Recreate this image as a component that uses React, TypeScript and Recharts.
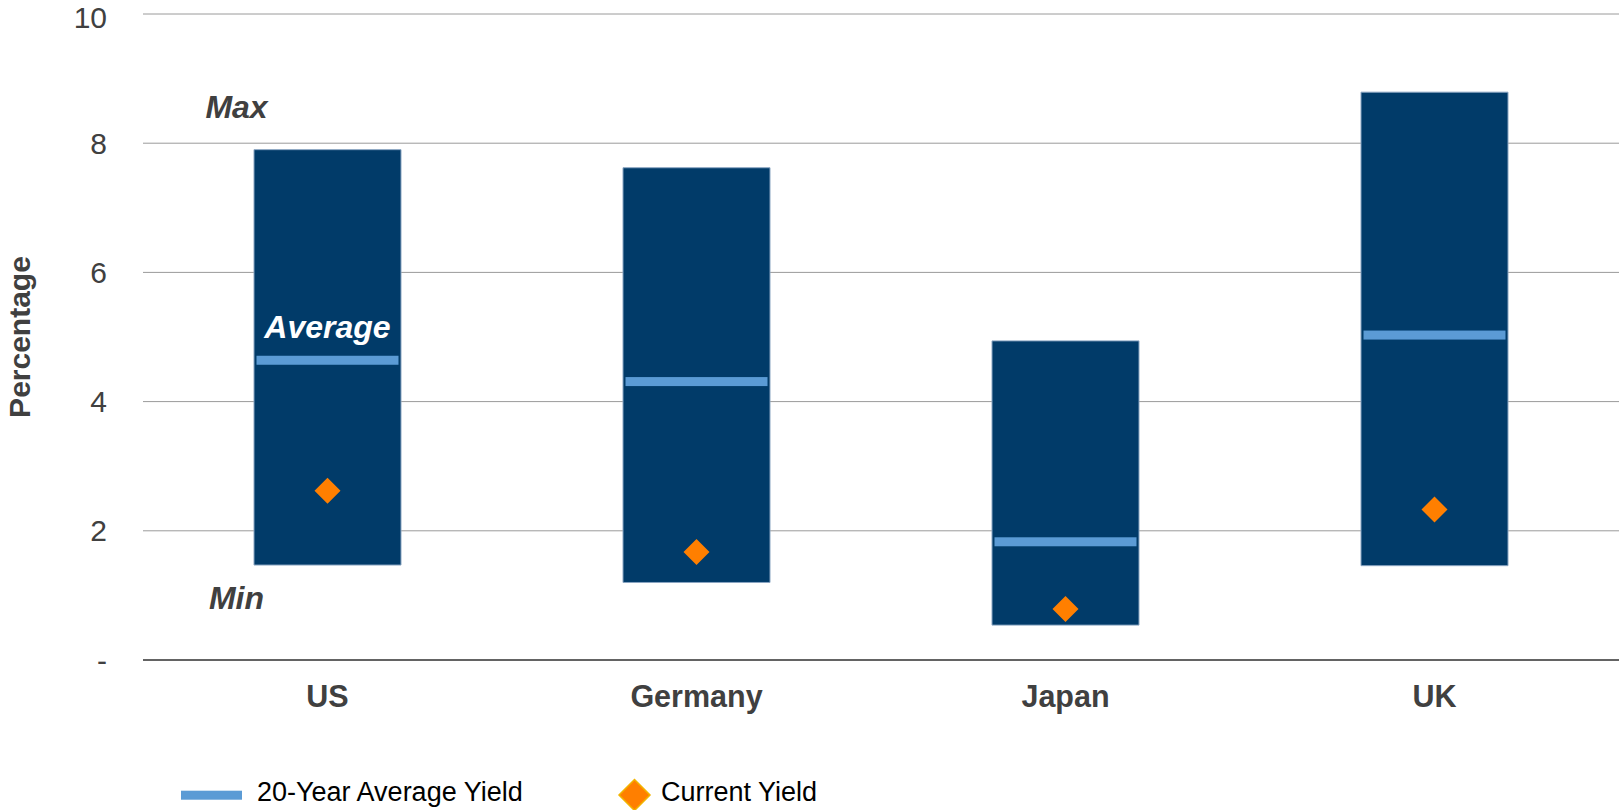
import { ComposedChart, Bar, Line, XAxis, YAxis, CartesianGrid, ReferenceDot, Legend } from "recharts"

const countries = ["US", "Germany", "Japan", "UK"]
const minYield = [1.47, 1.2, 0.54, 1.46]
const maxYield = [7.9, 7.62, 4.94, 8.79]
const avgYield = [4.64, 4.31, 1.83, 5.03]
const currentYield = [2.62, 1.67, 0.79, 2.33]
const yTicks = [0, 2, 4, 6, 8, 10]

const FONT = '"Liberation Sans", Arial, sans-serif'
const TEXT = "#404040"

const chartData = countries.map((country, i) => ({
  country,
  range: [minYield[i], maxYield[i]],
  avg: avgYield[i],
  current: currentYield[i],
}))

// average marker: short thick dash across the bar
function renderAvg(props: any) {
  const { cx, cy, index } = props
  if (cx == null || cy == null) return <g key={index} />
  return <rect key={index} x={cx - 71} y={cy - 4.5} width={142} height={9} fill="#5b9bd5" />
}

function renderDiamond(props: any) {
  const { cx, cy, index } = props
  if (cx == null || cy == null) return <g key={index} />
  const r = 13
  return (
    <polygon
      key={index}
      points={`${cx},${cy - r} ${cx + r},${cy} ${cx},${cy + r} ${cx - r},${cy}`}
      fill="#ff7f00"
    />
  )
}

function noteLabel(text: string, dx: number, dy: number, color: string) {
  return (props: any) => {
    const vb = props.viewBox || {}
    const x = (vb.x ?? 0) + (vb.width ?? 0) / 2 + dx
    const y = (vb.y ?? 0) + (vb.height ?? 0) / 2 + dy
    return (
      <text x={x} y={y} textAnchor="middle" fontFamily={FONT} fontSize={32} fontWeight="bold" fontStyle="italic" fill={color}>
        {text}
      </text>
    )
  }
}

function renderLegend() {
  return (
    <svg width={900} height={33} style={{ display: "block" }}>
      <rect x={181} y={13.7} width={61} height={9} fill="#5b9bd5" />
      <text x={257} y={24} fontFamily={FONT} fontSize={27} fill="#000">
        20-Year Average Yield
      </text>
      <polygon points="634.5,2.5 650,18 634.5,33.5 619,18" fill="#ff7f00" stroke="#f2b400" strokeWidth={1.5} />
      <text x={661} y={24} fontFamily={FONT} fontSize={27} fill="#000">
        Current Yield
      </text>
    </svg>
  )
}

export default function App() {
  return (
    <div style={{ position: "absolute", left: 0, top: 0, width: 1619, height: 810, background: "#fff" }}>
      <ComposedChart width={1619} height={810} data={chartData} margin={{ top: 14, right: 0, bottom: 90, left: 0 }}>
        <CartesianGrid vertical={false} stroke="#9a9a9a" />
        <XAxis
          dataKey="country"
          height={60}
          axisLine={{ stroke: TEXT, strokeWidth: 1.5 }}
          tickLine={false}
          tickSize={0}
          tickMargin={25}
          tick={{ fontSize: 30.5, fontWeight: "bold", fill: TEXT, fontFamily: FONT }}
        />
        <YAxis
          width={143}
          domain={[0, 10]}
          ticks={yTicks}
          axisLine={false}
          tickLine={false}
          tickSize={0}
          tickMargin={36}
          tickFormatter={(v: number) => (v === 0 ? "-" : String(v))}
          tick={{ fontSize: 30, fill: TEXT, fontFamily: FONT }}
          label={() => (
            <text
              transform="translate(29.5,337) rotate(-90)"
              textAnchor="middle"
              fontFamily={FONT}
              fontSize={30}
              fontWeight="bold"
              fill={TEXT}
            >
              Percentage
            </text>
          )}
        />
        <Bar dataKey="range" barSize={147} fill="#013b69" stroke="#8aa5c2" strokeWidth={1} isAnimationActive={false} legendType="none" />
        <Line dataKey="avg" stroke="none" dot={renderAvg} activeDot={false} isAnimationActive={false} legendType="none" />
        <Line dataKey="current" stroke="none" dot={renderDiamond} activeDot={false} isAnimationActive={false} legendType="none" />

        <ReferenceDot x="US" y={maxYield[0]} r={0} stroke="none" label={noteLabel("Max", -91, -32, TEXT)} />
        <ReferenceDot x="US" y={minYield[0]} r={0} stroke="none" label={noteLabel("Min", -91, 44, TEXT)} />
        <ReferenceDot x="US" y={avgYield[0]} r={0} stroke="none" label={noteLabel("Average", 0, -22, "#ffffff")} />

        <Legend
          verticalAlign="middle"
          align="center"
          layout="horizontal"
          wrapperStyle={{ top: 777, left: 0, width: 900, height: 33 }}
          content={renderLegend}
        />
      </ComposedChart>
    </div>
  )
}
